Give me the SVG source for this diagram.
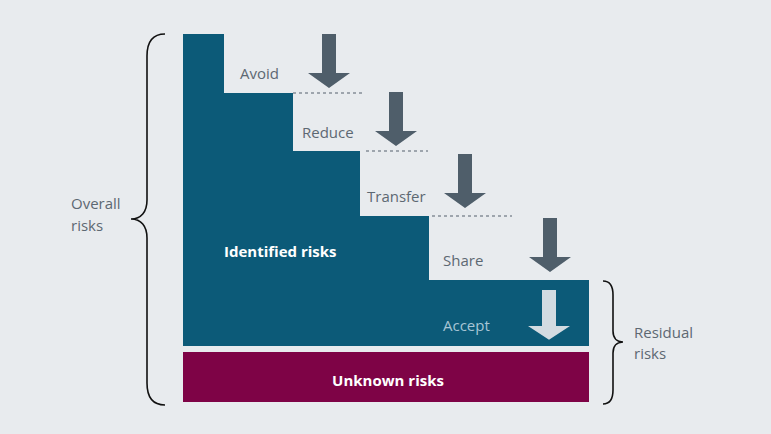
<svg xmlns="http://www.w3.org/2000/svg" width="771" height="434" viewBox="0 0 771 434">
<defs>
<style>
.lbl{font-family:"Open Sans","Noto Sans",sans-serif;font-size:15px;fill:#5d6872}
.wb{font-family:"Open Sans","Noto Sans",sans-serif;font-size:15px;font-weight:bold;fill:#ffffff}
.brace{fill:none;stroke:#111;stroke-width:1.6}
.dash{stroke:#55616c;stroke-width:1.2;stroke-dasharray:3 3}
.arr{fill:#4f5e6a}
</style>
<path id="arrow" d="M-7,0 L7,0 L7,39 L21,39 L0,54 L-21,39 L-7,39 Z"/>
</defs>
<rect width="771" height="434" fill="#e8ebee"/>
<g id="identified">
<polygon points="183,34 224,34 224,93 293,93 293,151 360,151 360,216 429,216 429,280 589,280 589,346 183,346" fill="#0c5a78"/>
<text class="wb" x="224" y="257">Identified risks</text>
</g>
<g id="unknown">
<rect x="183" y="352" width="406" height="50" fill="#7e0346"/>
<text class="wb" x="388" y="386" text-anchor="middle">Unknown risks</text>
</g>
<g id="connectors">
<line class="dash" x1="293" y1="93" x2="362" y2="93"/>
<line class="dash" x1="366" y1="151" x2="428" y2="151"/>
<line class="dash" x1="432" y1="216" x2="512" y2="216"/>
<use href="#arrow" class="arr" transform="translate(329,34)"/>
<use href="#arrow" class="arr" transform="translate(396,92)"/>
<use href="#arrow" class="arr" transform="translate(465,154)"/>
<use href="#arrow" class="arr" transform="translate(550,218)"/>
<use href="#arrow" fill="#d3dbe1" transform="translate(549,290) scale(1,0.92)"/>
</g>
<g id="avoid"><text class="lbl" x="240" y="79">Avoid</text></g>
<g id="reduce"><text class="lbl" x="302" y="138">Reduce</text></g>
<g id="transfer"><text class="lbl" x="367" y="202">Transfer</text></g>
<g id="share"><text class="lbl" x="443" y="266">Share</text></g>
<g id="accept"><text class="lbl" x="443" y="331" style="fill:#a7c5d5">Accept</text></g>
<g id="overall">
<path class="brace" d="M165,34 C152,34 147,42 147,56 L147,200 C147,212 141,219 131,219 C141,219 147,226 147,238 L147,383 C147,397 152,405 165,405"/>
<text class="lbl" x="71" y="209">Overall</text>
<text class="lbl" x="71" y="231">risks</text>
</g>
<g id="residual">
<path class="brace" d="M603,281 C610,281 613,286 613,295 L613,331 C613,338 617,342 623,342 C617,342 613,346 613,353 L613,390 C613,399 610,404 603,404"/>
<text class="lbl" x="634" y="338">Residual</text>
<text class="lbl" x="634" y="359">risks</text>
</g>
</svg>
